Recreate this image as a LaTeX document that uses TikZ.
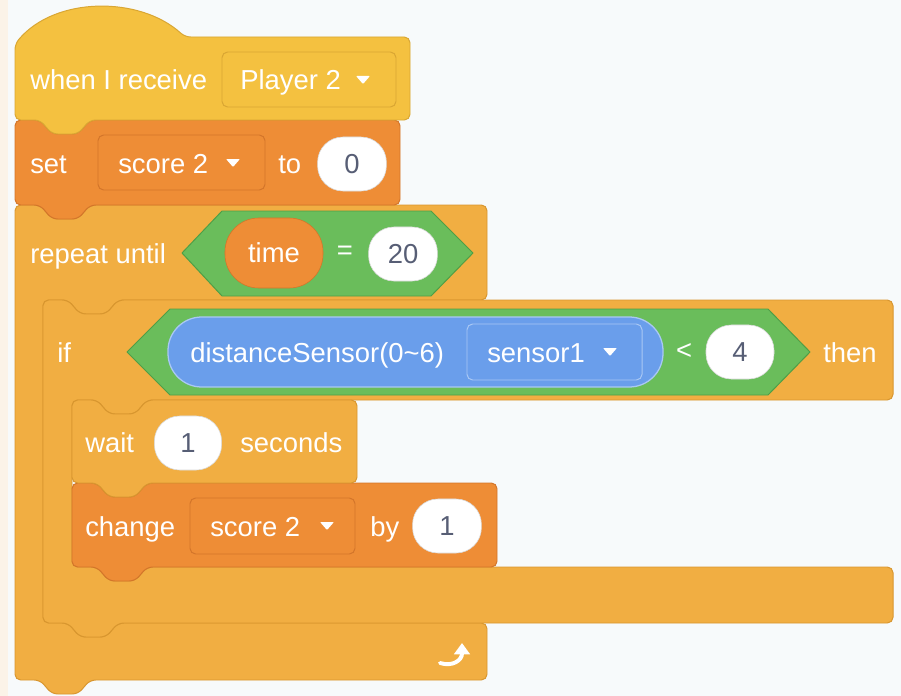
\documentclass[tikz,border=0pt]{standalone}
\usepackage{fontspec}
\setmainfont{Liberation Sans}
\usepackage{xcolor}
\usepackage{tikz}
\usetikzlibrary{arrows.meta}
\definecolor{fondo}{HTML}{F7FAFB}
\definecolor{borde}{HTML}{FBF3E8}
\definecolor{evento}{HTML}{F4C140}
\definecolor{eventob}{HTML}{D9A633}
\definecolor{control}{HTML}{F1AE42}
\definecolor{controlb}{HTML}{D8962F}
\definecolor{variable}{HTML}{EE8D36}
\definecolor{variableb}{HTML}{D3752A}
\definecolor{operador}{HTML}{6ABD5B}
\definecolor{operadorb}{HTML}{4F9E46}
\definecolor{sensor}{HTML}{6A9EEB}
\definecolor{sensorb}{HTML}{A9C8F4}
\definecolor{numero}{HTML}{575E75}

\begin{document}
\begin{tikzpicture}[x=0.025cm,y=-0.025cm,
  bloque/.style={line width=0.7pt,rounded corners=4pt,line join=round},
  texto/.style={text=white,font=\fontsize{19.5}{23}\selectfont,inner sep=0pt,anchor=base west},
  signo/.style={text=white,font=\fontsize{19.5}{23}\selectfont,inner sep=0pt},
  valor/.style={draw=black!15,fill=white,text=numero,font=\fontsize{19.5}{23}\selectfont,
    rounded corners=18pt,minimum height=1.35cm,inner sep=0pt},
  menu/.style={line width=0.7pt,rounded corners=4pt},
  flecha/.style={fill=white,rounded corners=0.6pt}]
  \fill[fondo] (0,0) rectangle (901,696);
  \fill[borde] (0,0) rectangle (8,696);
  \useasboundingbox (0,0) rectangle (901,696);
  \draw[bloque,fill=control,draw=controlb] (15,205) -- (40,205) -- (52,219) -- (78,219) -- (90,205)
    -- (487,205) -- (487,300) -- (118,300) -- (106,314) -- (80,314) -- (68,300) -- (43,300)
    -- (43,623) -- (68,623) -- (80,637) -- (106,637) -- (118,623) -- (487,623) -- (487,680)
    -- (90,680) -- (78,694) -- (52,694) -- (40,680) -- (15,680) -- cycle;
  \draw[bloque,fill=control,draw=controlb] (43,300) -- (68,300) -- (80,314) -- (106,314) -- (118,300)
    -- (893,300) -- (893,400) -- (147,400) -- (135,414) -- (109,414) -- (97,400) -- (72,400)
    -- (72,567) -- (97,567) -- (109,581) -- (135,581) -- (147,567) -- (893,567) -- (893,623)
    -- (118,623) -- (106,637) -- (80,637) -- (68,623) -- (43,623) -- cycle;
  \draw[bloque,fill=variable,draw=variableb] (72,483) -- (97,483) -- (109,497) -- (135,497) -- (147,483)
    -- (497,483) -- (497,567) -- (147,567) -- (135,581) -- (109,581) -- (97,567) -- (72,567) -- cycle;
  \draw[bloque,fill=control,draw=controlb] (72,400) -- (97,400) -- (109,414) -- (135,414) -- (147,400)
    -- (357,400) -- (357,483) -- (147,483) -- (135,497) -- (109,497) -- (97,483) -- (72,483) -- cycle;
  \draw[bloque,fill=variable,draw=variableb] (15,120) -- (40,120) -- (52,134) -- (78,134) -- (90,120)
    -- (400,120) -- (400,205) -- (90,205) -- (78,219) -- (52,219) -- (40,205) -- (15,205) -- cycle;
  \draw[bloque,fill=evento,draw=eventob] (15,44) .. controls (55,-4) and (140,-4) .. (185,37)
    -- (410,37) -- (410,120) -- (90,120) -- (78,134) -- (52,134) -- (40,120) -- (15,120) -- cycle;

  \node[texto] (recibe) at (30,90) {when I receive};
  \draw[menu,fill=evento,draw=eventob] (222,52) rectangle (396,107);
  \node[texto] (mensaje) at (240,90) {Player 2};
  \fill[flecha] (356,76) -- (370,76) -- (363,84) -- cycle;

  \node[texto] (fija) at (30,173) {set};
  \draw[menu,fill=variable,draw=variableb] (98,135) rectangle (265,190);
  \node[texto] (var1) at (118,173) {score 2};
  \fill[flecha] (226,159) -- (240,159) -- (233,167) -- cycle;
  \node[texto] (a) at (278,173) {to};
  \node[valor,minimum width=1.72cm] (cero) at (352,164) {0};

  \node[texto] (repite) at (30,263) {repeat until};
  \draw[line width=0.7pt,fill=operador,draw=operadorb,line join=round] (182,253) -- (222,211)
    -- (431,211) -- (473,253) -- (431,296) -- (222,296) -- cycle;
  \node[draw=variableb,fill=variable,text=white,font=\fontsize{19.5}{23}\selectfont,
    rounded corners=24pt,minimum width=2.45cm,minimum height=1.75cm,inner sep=0pt] (tiempo) at (274,253) {time};
  \node[signo] (igual) at (345,253) {=};
  \node[valor,minimum width=1.72cm] (veinte) at (403,254) {20};

  \node[texto] (si) at (57,362) {if};
  \draw[line width=0.7pt,fill=operador,draw=operadorb,line join=round] (127,352) -- (170,309)
    -- (768,309) -- (810,352) -- (768,395) -- (170,395) -- cycle;
  \draw[line width=0.9pt,fill=sensor,draw=sensorb,rounded corners=24pt] (168,317) rectangle (663,387);
  \node[texto] (distancia) at (190,362) {distanceSensor(0\textasciitilde6)};
  \draw[menu,fill=sensor,draw=sensorb] (467,324) rectangle (642,380);
  \node[texto] (sensor1) at (487,362) {sensor1};
  \fill[flecha] (603,348) -- (617,348) -- (610,356) -- cycle;
  \node[signo] (menor) at (684,352) {<};
  \node[valor,minimum width=1.7cm] (cuatro) at (740,352) {4};
  \node[texto] (entonces) at (823,362) {then};

  \node[texto] (espera) at (85,452) {wait};
  \node[valor,minimum width=1.68cm] (uno) at (188,443) {1};
  \node[texto] (segundos) at (240,452) {seconds};

  \node[texto] (cambia) at (85,536) {change};
  \draw[menu,fill=variable,draw=variableb] (190,498) rectangle (355,554);
  \node[texto] (var2) at (210,536) {score 2};
  \fill[flecha] (320,522) -- (334,522) -- (327,530) -- cycle;
  \node[texto] (por) at (370,536) {by};
  \node[valor,minimum width=1.72cm] (uno2) at (447,526) {1};

  \draw[white,line width=2.8pt,line cap=round,-{Triangle[length=8pt,width=11pt]}] (440,663) .. controls (453,667) and (462,660) .. (462,643);
\end{tikzpicture}
\end{document}
